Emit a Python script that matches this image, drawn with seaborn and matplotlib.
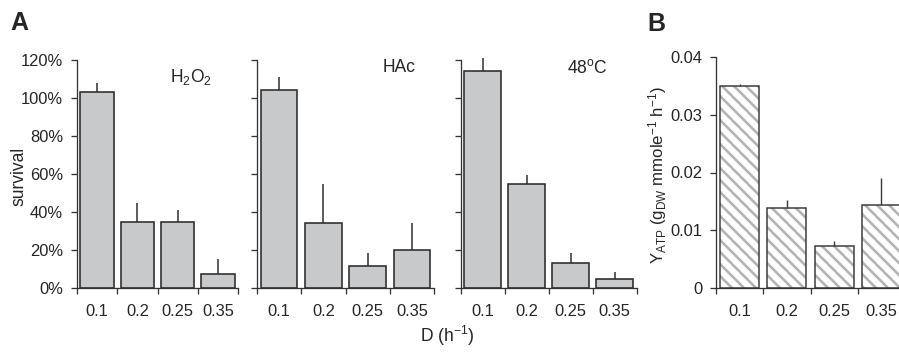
import numpy as np
import pandas as pd
import seaborn as sns
import matplotlib.pyplot as plt

# data
doses = ["0.1", "0.2", "0.25", "0.35"]

h2o2_mean = [103, 35, 34.5, 7.2]
h2o2_err = [5, 10, 6.5, 8]
hac_mean = [104, 34, 11.5, 20]
hac_err = [7, 21, 7, 14]
heat_mean = [114, 55, 13, 5]
heat_err = [7, 4.5, 5.5, 3.5]

yatp_mean = [0.0350, 0.0138, 0.0072, 0.0144]
yatp_err = [0.0004, 0.0015, 0.0010, 0.0046]

# dpi 72 so that 1pt == 1px (also makes the hatch spacing match)
DPI = 72
W, H = 899, 352

sns.set_style("ticks")
plt.rcParams["font.family"] = ["Liberation Sans", "DejaVu Sans"]
plt.rcParams["mathtext.default"] = "regular"
plt.rcParams["hatch.linewidth"] = 2.6

BAR_GRAY = "#c8c9cb"
EDGE = "#2b2b2b"
FS_TICK = 16.5
FS_LAB = 17.5

fig = plt.figure(figsize=(W / DPI, H / DPI), dpi=DPI)
bottom = 1 - 288 / H
height = 228 / H
ax1 = fig.add_axes([77 / W, bottom, 161 / W, height])
ax2 = fig.add_axes([257 / W, bottom, 177 / W, height])
ax3 = fig.add_axes([460.7 / W, bottom, 176 / W, height])
axb = fig.add_axes([716 / W, bottom, 189 / W, 231 / H])


def style_axes(ax):
    sns.despine(ax=ax)
    for s in ["left", "bottom"]:
        ax.spines[s].set_color("#333333")
        ax.spines[s].set_linewidth(1.3)
    ax.set_xlim(-0.5, 3.5)
    ax.set_xticks(range(4), doses)
    ax.set_xticks(np.arange(-0.5, 4, 1), minor=True)
    ax.tick_params(axis="x", which="major", length=0, pad=16, labelsize=FS_TICK)
    ax.tick_params(axis="x", which="minor", bottom=True, length=6, width=1.3,
                   color="#333333", direction="out")
    ax.tick_params(axis="y", left=True, length=6, width=1.3, color="#333333",
                   direction="out", pad=8, labelsize=FS_TICK)
    ax.set_xlabel("")
    ax.set_ylabel("")


panels = [(ax1, h2o2_mean, h2o2_err, r"H$_2$O$_2$", 0.71, 0.925),
          (ax2, hac_mean, hac_err, "HAc", 0.80, 0.965),
          (ax3, heat_mean, heat_err, r"48$^{o}$C", 0.72, 0.965)]

for i, (ax, mean, err, label, tx, ty) in enumerate(panels):
    df = pd.DataFrame({"D": doses, "survival": mean})
    sns.barplot(data=df, x="D", y="survival", color=BAR_GRAY, saturation=1,
                edgecolor=EDGE, linewidth=1.6, width=0.83, errorbar=None, ax=ax)
    ax.errorbar(range(4), mean, yerr=[np.zeros(4), err], fmt="none",
                ecolor=EDGE, elinewidth=1.5, capsize=0, clip_on=False, zorder=1)
    ax.set_ylim(0, 120)
    ax.set_yticks(range(0, 121, 20))
    style_axes(ax)
    if i == 0:
        ax.set_yticklabels([f"{v}%" for v in range(0, 121, 20)])
    else:
        ax.set_yticklabels([])
    ax.text(tx, ty, label, transform=ax.transAxes, ha="center", va="center",
            fontsize=FS_LAB)

ax1.set_ylabel("survival", fontsize=FS_LAB)
ax1.yaxis.set_label_coords(-0.31, 0.49)

# panel B, hatched bars
dfb = pd.DataFrame({"D": doses, "yatp": yatp_mean})
sns.barplot(data=dfb, x="D", y="yatp", color="white", saturation=1,
            edgecolor="#b4b4b4", linewidth=0, width=0.83, errorbar=None, ax=axb)
for p in axb.patches:
    p.set_hatch("\\\\")
sns.barplot(data=dfb, x="D", y="yatp", color="#3a3a3a", fill=False,
            linewidth=1.5, width=0.83, errorbar=None, ax=axb)
axb.errorbar(range(4), yatp_mean, yerr=[np.zeros(4), yatp_err], fmt="none",
             ecolor="#3a3a3a", elinewidth=1.4, capsize=0, clip_on=False)
axb.set_ylim(0, 0.04)
axb.set_yticks([0, 0.01, 0.02, 0.03, 0.04])
style_axes(axb)
axb.set_yticklabels(["0", "0.01", "0.02", "0.03", "0.04"])
axb.set_ylabel(r"Y$_{ATP}$ (g$_{DW}$ mmole$^{-1}$ h$^{-1}$)", fontsize=16.8)
axb.yaxis.set_label_coords(-0.25, 0.49)

fig.text(447 / W, 1 - 336 / H, r"D (h$^{-1}$)", ha="center", va="center",
         fontsize=FS_LAB)
fig.text(10 / W, 1 - 23 / H, "A", fontsize=25, fontweight="bold", va="center")
fig.text(647 / W, 1 - 24 / H, "B", fontsize=25, fontweight="bold", va="center")

fig.savefig("out.png", dpi=DPI)
